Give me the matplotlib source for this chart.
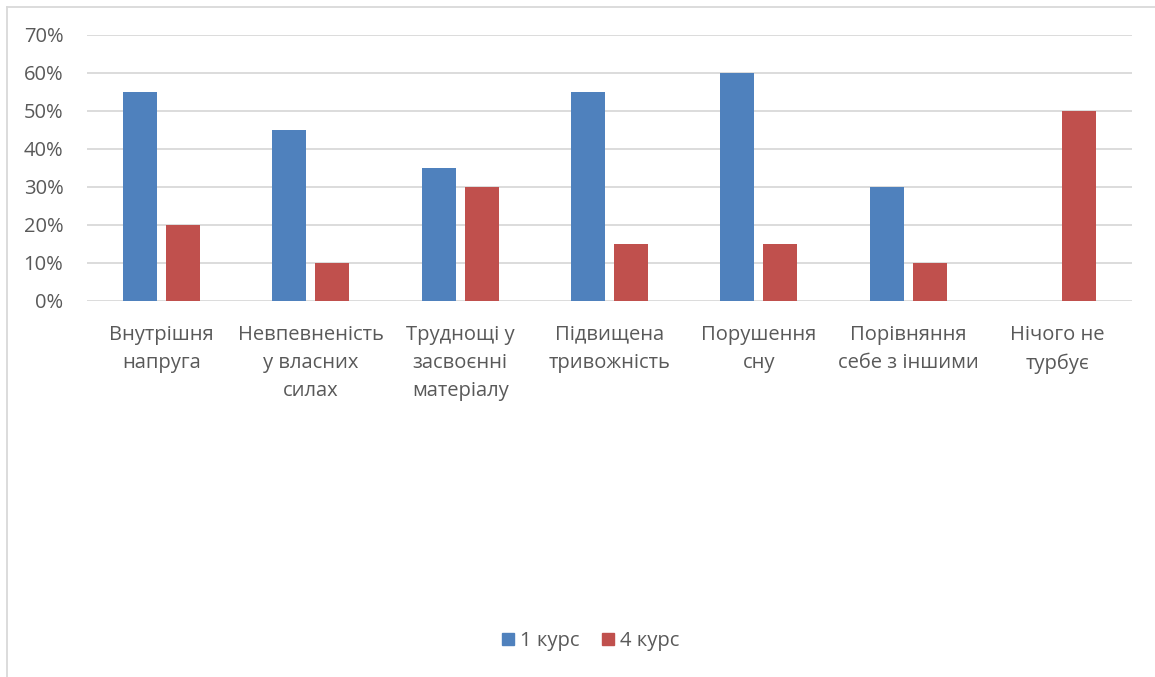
import matplotlib
matplotlib.use("Agg")
import matplotlib.pyplot as plt
import numpy as np
from matplotlib.lines import Line2D
from matplotlib.ticker import FuncFormatter

categories = ["Внутрішня\nнапруга", "Невпевненість\nу власних\nсилах", "Труднощі у\nзасвоєнні\nматеріалу",
              "Підвищена\nтривожність", "Порушення\nсну", "Порівняння\nсебе з іншими", "Нічого не\nтурбує"]
course1 = [0.55, 0.45, 0.35, 0.55, 0.60, 0.30, 0.0]
course4 = [0.20, 0.10, 0.30, 0.15, 0.15, 0.10, 0.50]
series_names = ["1 курс", "4 курс"]
colors = ["#4F81BD", "#C0504D"]
yticks = [0, 0.1, 0.2, 0.3, 0.4, 0.5, 0.6, 0.7]

plt.rcParams['font.family'] = ['Open Sans', 'DejaVu Sans']
text_color = "#595959"
fs = 14.5

fig = plt.figure(figsize=(11.55, 6.77), dpi=100)
ax = fig.add_axes([87/1155, 1-301/677, (1132-87)/1155, (301-35)/677])

x = np.arange(len(categories))
w = 0.228
off = 0.144
ax.bar(x - off, course1, w, color=colors[0], zorder=3, label=series_names[0])
ax.bar(x + off, course4, w, color=colors[1], zorder=3, label=series_names[1])

ax.set_xlim(-0.5, len(categories) - 0.5)
ax.set_ylim(0, 0.7)
ax.set_yticks(yticks)
ax.yaxis.set_major_formatter(FuncFormatter(lambda v, p: f"{v*100:.0f}%"))
ax.grid(axis='y', color="#D9D9D9", linewidth=1.3, zorder=0)
for s in ax.spines.values():
    s.set_visible(False)
ax.tick_params(axis='both', length=0, labelsize=fs, colors=text_color)
ax.tick_params(axis='y', pad=17)
ax.tick_params(axis='x', pad=17)
ax.set_xticks(x)
ax.set_xticklabels(categories, linespacing=1.55, va='top')

handles = [Line2D([], [], marker='s', linestyle='none', markersize=9,
                  markerfacecolor=c, markeredgecolor=c) for c in colors]
leg = fig.legend(handles, series_names, loc='center', bbox_to_anchor=(590/1155, 1-641/677),
                 ncol=2, frameon=False, fontsize=fs, handletextpad=0.2, columnspacing=1.0,
                 handlelength=0.8)
for t in leg.get_texts():
    t.set_color(text_color)

# chart border (left and top visible)
fig.add_artist(Line2D([7/1155, 7/1155], [0, 1-6.5/677], transform=fig.transFigure, color="#D9D9D9", linewidth=1.3))
fig.add_artist(Line2D([7/1155, 1], [1-6.5/677, 1-6.5/677], transform=fig.transFigure, color="#D9D9D9", linewidth=1.3))

fig.savefig("out.png", dpi=100, facecolor="white")
